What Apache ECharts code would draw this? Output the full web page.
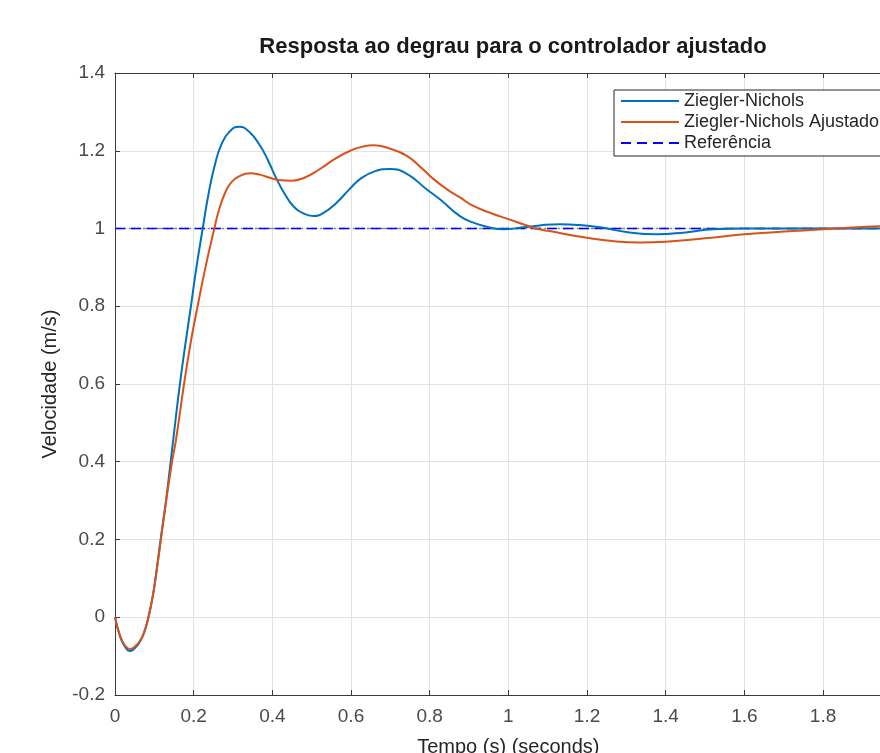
<!DOCTYPE html>
<html>
<head>
<meta charset="utf-8">
<script src="https://cdn.jsdelivr.net/npm/echarts@6/dist/echarts.min.js"></script>
<style>html,body{margin:0;padding:0;background:#fff;}#c{width:880px;height:753px;}</style>
</head>
<body>
<div id="c"></div>
<script>
const titleText = 'Resposta ao degrau para o controlador ajustado';
const xLabel = 'Tempo (s) (seconds)';
const yLabel = 'Velocidade (m/s)';
const seriesNames = ['Ziegler-Nichols', 'Ziegler-Nichols Ajustado', 'Referência'];

const znT = [0, 0.013, 0.025, 0.038, 0.052, 0.064, 0.074, 0.084, 0.096, 0.106, 0.116, 0.131, 0.1415, 0.148, 0.165, 0.18, 0.193, 0.207, 0.223, 0.238, 0.253, 0.27, 0.29, 0.316, 0.34, 0.369, 0.39, 0.411, 0.432, 0.453, 0.48, 0.504, 0.53, 0.564, 0.595, 0.623, 0.66, 0.699, 0.74, 0.792, 0.826, 0.877, 0.911, 0.95, 0.988, 1.038, 1.08, 1.131, 1.18, 1.233, 1.3, 1.377, 1.45, 1.521, 1.6, 1.7, 1.8, 1.9, 2.0];
const znV = [0, -0.05, -0.075, -0.087, -0.078, -0.062, -0.04, -0.005, 0.054, 0.123, 0.2, 0.311, 0.4, 0.456, 0.6, 0.71, 0.8, 0.9, 1.0, 1.09, 1.16, 1.215, 1.248, 1.262, 1.25, 1.213, 1.173, 1.127, 1.088, 1.058, 1.038, 1.032, 1.04, 1.067, 1.1, 1.127, 1.147, 1.153, 1.142, 1.101, 1.075, 1.032, 1.015, 1.003, 0.998, 1.003, 1.008, 1.011, 1.009, 1.003, 0.991, 0.985, 0.99, 0.998, 1.0, 1.0, 1.0, 1.0, 1.0];

const znaT = [0, 0.013, 0.025, 0.038, 0.052, 0.064, 0.074, 0.084, 0.096, 0.106, 0.116, 0.131, 0.145, 0.155, 0.1755, 0.193, 0.21, 0.23, 0.2525, 0.265, 0.28, 0.295, 0.315, 0.343, 0.37, 0.395, 0.42, 0.449, 0.48, 0.521, 0.56, 0.598, 0.627, 0.657, 0.7, 0.742, 0.78, 0.81, 0.845, 0.877, 0.911, 0.96, 1.0, 1.055, 1.068, 1.1, 1.2, 1.27, 1.335, 1.4, 1.5, 1.6, 1.7, 1.8, 1.9, 1.945, 2.0];
const znaV = [0, -0.048, -0.072, -0.082, -0.074, -0.06, -0.038, -0.004, 0.054, 0.12, 0.195, 0.305, 0.4, 0.456, 0.6, 0.71, 0.8, 0.9, 1.0, 1.05, 1.092, 1.118, 1.134, 1.142, 1.138, 1.13, 1.124, 1.123, 1.13, 1.153, 1.18, 1.2, 1.21, 1.214, 1.205, 1.187, 1.155, 1.127, 1.1, 1.08, 1.058, 1.038, 1.024, 1.005, 1.0, 0.994, 0.976, 0.967, 0.964, 0.966, 0.975, 0.985, 0.992, 0.998, 1.004, 1.006, 1.007];

const refT = [0, 2.0];
const refV = [1, 1];

const xTicks = [0, 0.2, 0.4, 0.6, 0.8, 1, 1.2, 1.4, 1.6, 1.8, 2];
const yTicks = [-0.2, 0, 0.2, 0.4, 0.6, 0.8, 1, 1.2, 1.4];

const pairs = (t, v) => t.map((x, i) => [x, v[i]]);
const FONT = 'Liberation Sans, Arial, Helvetica, sans-serif';

const chart = echarts.init(document.getElementById('c'), null, {renderer: 'canvas'});
const axisColor = '#3a3a3a';
chart.setOption({
  animation: false,
  backgroundColor: '#ffffff',
  title: {
    text: titleText,
    left: 508, top: 31, textAlign: 'center',
    textStyle: {fontFamily: FONT, fontSize: 22, fontWeight: 'bold', color: '#1a1a1a'}
  },
  grid: {left: 115, top: 73, width: 786.7, height: 622, containLabel: false, outerBoundsMode: 'none'},
  legend: {
    data: seriesNames,
    orient: 'vertical',
    left: 614, top: 90,
    backgroundColor: '#ffffff',
    borderColor: '#262626', borderWidth: 1,
    padding: [2, 6, 4, 6],
    itemWidth: 58, itemHeight: 14, itemGap: 3,
    itemStyle: {opacity: 0},
    textStyle: {fontFamily: FONT, fontSize: 18, color: '#262626', lineHeight: 18}
  },
  xAxis: [{
    type: 'value', min: xTicks[0], max: xTicks[xTicks.length - 1], interval: 0.2,
    name: xLabel, nameLocation: 'middle', nameGap: 42,
    nameTextStyle: {fontFamily: FONT, fontSize: 20, color: '#262626'},
    axisLine: {show: true, onZero: false, lineStyle: {color: axisColor, width: 1}},
    axisTick: {show: true, inside: true, length: 5, lineStyle: {color: axisColor}},
    axisLabel: {fontFamily: FONT, fontSize: 19, color: '#4a4a4a', margin: 12},
    splitLine: {show: true, lineStyle: {color: '#e2e2e2', width: 1}}
  }, {
    type: 'value', position: 'top', min: 0, max: 2, interval: 0.2,
    axisLine: {show: true, onZero: false, lineStyle: {color: axisColor, width: 1}},
    axisTick: {show: true, inside: true, length: 5, lineStyle: {color: axisColor}},
    axisLabel: {show: false}, splitLine: {show: false}
  }],
  yAxis: [{
    type: 'value', min: yTicks[0], max: yTicks[yTicks.length - 1], interval: 0.2,
    name: yLabel, nameLocation: 'middle', nameGap: 55,
    nameTextStyle: {fontFamily: FONT, fontSize: 20, color: '#262626'},
    axisLine: {show: true, onZero: false, lineStyle: {color: axisColor, width: 1}},
    axisTick: {show: true, inside: true, length: 5, lineStyle: {color: axisColor}},
    axisLabel: {fontFamily: FONT, fontSize: 19, color: '#4a4a4a', margin: 10},
    splitLine: {show: true, lineStyle: {color: '#e2e2e2', width: 1}}
  }],
  series: [
    {
      name: '', type: 'line', data: pairs(refT, refV), showSymbol: false, symbol: 'none', silent: true,
      lineStyle: {color: '#8a8a8a', width: 1.5, type: [6, 3, 2, 3]}, z: 1
    },
    {
      name: seriesNames[0], type: 'line', data: pairs(znT, znV), showSymbol: false, symbol: 'none',
      smooth: 0.5, lineStyle: {color: '#0072BD', width: 2}, itemStyle: {color: '#0072BD'}, z: 3
    },
    {
      name: seriesNames[1], type: 'line', data: pairs(znaT, znaV), showSymbol: false, symbol: 'none',
      smooth: 0.5, lineStyle: {color: '#D95319', width: 2}, itemStyle: {color: '#D95319'}, z: 4
    },
    {
      name: seriesNames[2], type: 'line', data: pairs(refT, refV), showSymbol: false, symbol: 'none',
      lineStyle: {color: '#0000FF', width: 1.5, type: [10, 6]}, itemStyle: {color: '#0000FF'}, z: 2
    }
  ]
});
</script>
</body>
</html>
